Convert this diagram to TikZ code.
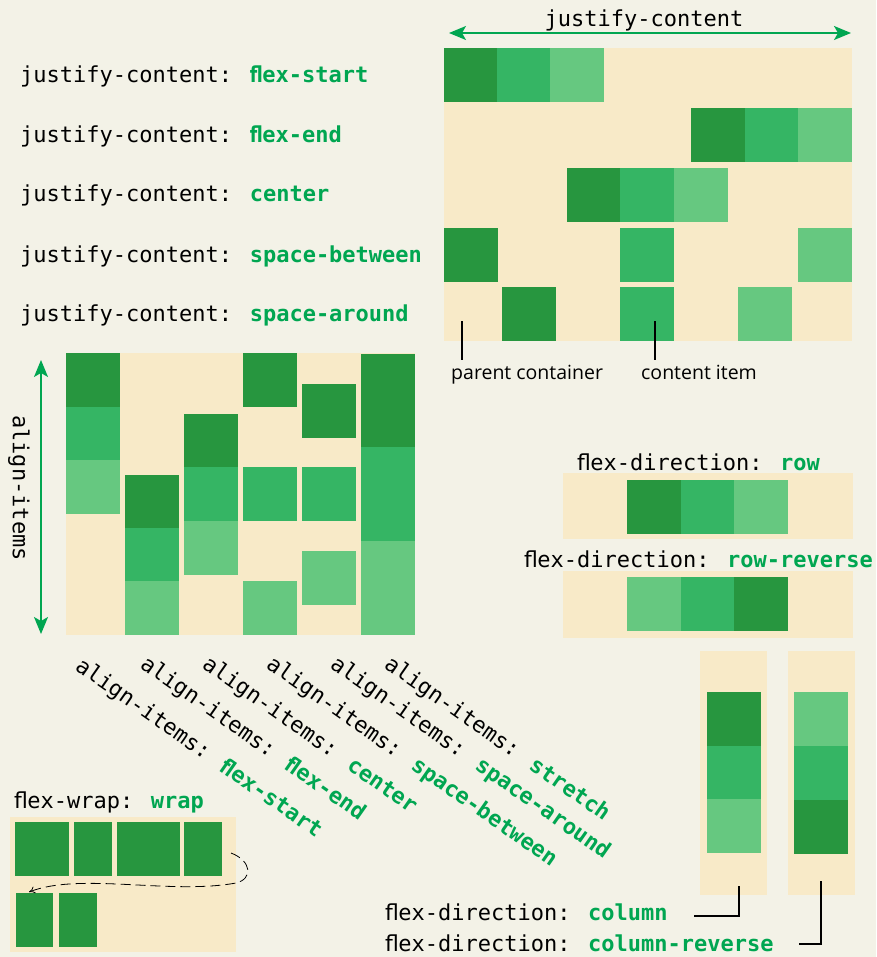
\documentclass[tikz,border=0pt]{standalone}
\usepackage{fontspec}
\usepackage{graphicx}
\newfontfamily\monof{DejaVu Sans Mono}
\newfontfamily\flfont{DejaVu Sans}
\newfontfamily\labf{Open Sans}
\usetikzlibrary{arrows.meta}
\definecolor{bg}{HTML}{F3F2E7}
\definecolor{beige}{HTML}{F8EAC8}
\definecolor{gD}{HTML}{27963F}
\definecolor{gM}{HTML}{35B564}
\definecolor{gL}{HTML}{66C880}
\definecolor{accent}{HTML}{00A651}
\newcommand\kwd[1]{{\bfseries\color{accent}#1}}
% "fl" ligature taking about one cell, as in the reference font
\newcommand\flr{{\flfont fl}\kern-0.7pt}
\newcommand\flb{\scalebox{0.8}[1]{\flfont\bfseries fl}\kern-0.5pt}
\newcommand\sqr[3]{\fill[#3] (#1,#2) rectangle ++(54,54);}
\begin{document}
\begin{tikzpicture}[x=1pt,y=-1pt,
  code/.style={font=\monof\fontsize{22}{26}\selectfont, inner sep=0pt, text=black},
  lab/.style={font=\labf\fontsize{19.5}{23}\selectfont, inner sep=0pt, text=black},
  garrow/.style={draw=accent, line width=1.6pt, {Stealth[length=17pt,width=14pt,inset=4pt]}-{Stealth[length=17pt,width=14pt,inset=4pt]}},
  leader/.style={draw=black, line width=1.5pt},
  wraparrow/.style={draw=black, line width=0.8pt, dash pattern=on 10pt off 5pt, -{To[length=6pt,width=7pt]}}
]
\fill[bg] (0,0) rectangle (876,957);
\useasboundingbox (0,0) rectangle (876,957);

% ---------- justify-content panel ----------
\fill[beige] (444,48) rectangle (852,341);
\sqr{444}{48}{gD}\sqr{497}{48}{gM}\sqr{550}{48}{gL}
\sqr{691}{108}{gD}\sqr{745}{108}{gM}\sqr{798}{108}{gL}
\sqr{567}{168}{gD}\sqr{620}{168}{gM}\sqr{674}{168}{gL}
\sqr{444}{228}{gD}\sqr{620}{228}{gM}\sqr{798}{228}{gL}
\sqr{502}{287}{gD}\sqr{620}{287}{gM}\sqr{738}{287}{gL}

\node[code, anchor=base] (jct) at (644,27) {justify-content};
\coordinate (jaL) at (449,33);
\coordinate (jaR) at (851,33);
\draw[garrow] (jaL) -- (jaR);

\node[code, anchor=base west] (jc1) at (20,83) {justify-content: \kwd{\flb ex-start}};
\node[code, anchor=base west] (jc2) at (20,143) {justify-content: \kwd{\flb ex-end}};
\node[code, anchor=base west] (jc3) at (20,202) {justify-content: \kwd{center}};
\node[code, anchor=base west] (jc4) at (20,262) {justify-content: \kwd{space-between}};
\node[code, anchor=base west] (jc5) at (20,321) {justify-content: \kwd{space-around}};

\node[lab, anchor=base west] (pc) at (451,379) {parent container};
\node[lab, anchor=base west] (ci) at (641,379) {content item};
\coordinate (pcT) at (462,321);
\coordinate (pcB) at (462,360);
\coordinate (ciT) at (655,321);
\coordinate (ciB) at (655,360);
\draw[leader] (pcT) -- (pcB);
\draw[leader] (ciT) -- (ciB);

% ---------- align-items panel ----------
\fill[beige] (66,353) rectangle (415,635);
\sqr{66}{353}{gD}\sqr{66}{407}{gM}\sqr{66}{460}{gL}
\sqr{125}{475}{gD}\sqr{125}{528}{gM}\sqr{125}{581}{gL}
\sqr{184}{414}{gD}\sqr{184}{467}{gM}\sqr{184}{521}{gL}
\sqr{243}{353}{gD}\sqr{243}{467}{gM}\sqr{243}{581}{gL}
\sqr{302}{384}{gD}\sqr{302}{467}{gM}\sqr{302}{551}{gL}
\fill[gD] (361,354) rectangle (415,447);
\fill[gM] (361,447) rectangle (415,541);
\fill[gL] (361,541) rectangle (415,635);

\coordinate (aaT) at (41,360);
\coordinate (aaB) at (41,634);
\draw[garrow] (aaT) -- (aaB);
\node[code, rotate=-90] (ai) at (19,488) {align-items};

\node[code, rotate=-35, anchor=base west] (d1) at (74,669) {align-items: \kwd{\flb ex-start}};
\node[code, rotate=-35, anchor=base west] (d2) at (139,667) {align-items: \kwd{\flb ex-end}};
\node[code, rotate=-35, anchor=base west] (d3) at (201,667) {align-items: \kwd{center}};
\node[code, rotate=-35, anchor=base west] (d4) at (265,667) {align-items: \kwd{space-between}};
\node[code, rotate=-35, anchor=base west] (d5) at (329,667) {align-items: \kwd{space-around}};
\node[code, rotate=-35, anchor=base west] (d6) at (383,667) {align-items: \kwd{stretch}};

% ---------- flex-direction row ----------
\node[code, anchor=base west] (fdr) at (577,470) {\flr ex-direction: \kwd{row}};
\fill[beige] (563,473) rectangle (853,539);
\sqr{627}{480}{gD}\sqr{681}{480}{gM}\sqr{734}{480}{gL}
\node[code, anchor=base west] (fdrr) at (524,567) {\flr ex-direction: \kwd{row-reverse}};
\fill[beige] (563,571) rectangle (853,638);
\sqr{627}{577}{gL}\sqr{681}{577}{gM}\sqr{734}{577}{gD}

% ---------- flex-direction column ----------
\fill[beige] (700,651) rectangle (767,895);
\sqr{707}{692}{gD}\sqr{707}{746}{gM}\sqr{707}{799}{gL}
\fill[beige] (788,651) rectangle (855,895);
\sqr{794}{692}{gL}\sqr{794}{746}{gM}\sqr{794}{800}{gD}

\node[code, anchor=base west] (fdc) at (385,920) {\flr ex-direction: \kwd{column}};
\node[code, anchor=base west] (fdcr) at (385,951) {\flr ex-direction: \kwd{column-reverse}};
\coordinate (c1a) at (694,916);
\coordinate (c1b) at (739,886);
\coordinate (c2a) at (799,944);
\coordinate (c2b) at (821,881);
\draw[leader] (c1a) -| (c1b);
\draw[leader] (c2a) -| (c2b);

% ---------- flex-wrap ----------
\node[code, anchor=base west] (fw) at (14,808) {\flr ex-wrap: \kwd{wrap}};
\fill[beige] (10,817) rectangle (236,952);
\fill[gD] (15,822) rectangle (69,876);
\fill[gD] (74,822) rectangle (112,876);
\fill[gD] (117,822) rectangle (180,876);
\fill[gD] (184,822) rectangle (222,876);
\fill[gD] (16,893) rectangle (53,947);
\fill[gD] (59,893) rectangle (97,947);
\coordinate (wS) at (231,853);
\coordinate (wM) at (236,883);
\coordinate (wE) at (29,892);
\draw[wraparrow] (wS) .. controls (252,861) and (253,879) .. (wM)
  .. controls (170,895) and (80,872) .. (wE);
\end{tikzpicture}
\end{document}
